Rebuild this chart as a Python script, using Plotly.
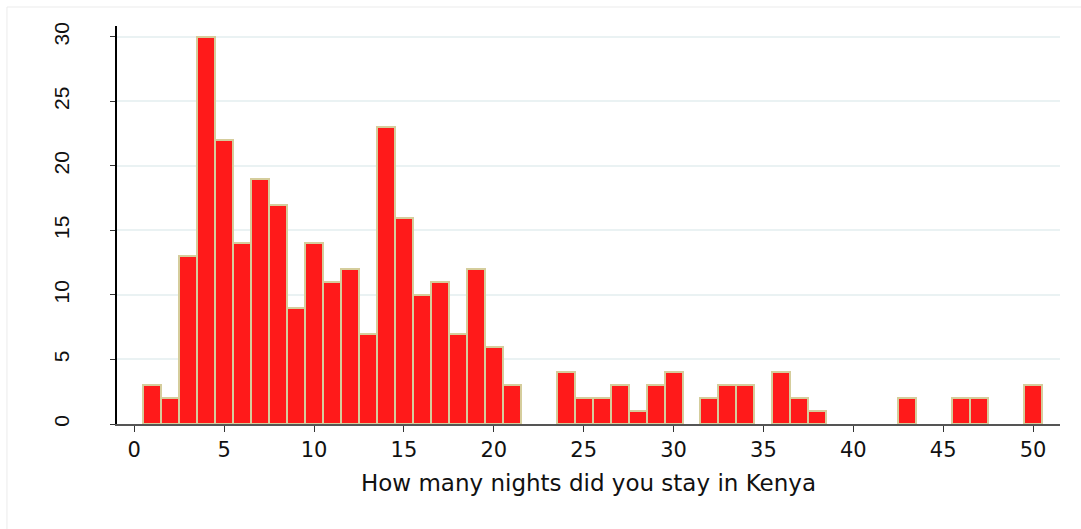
import plotly.graph_objects as go

# Nights stayed and the number of respondents for each value
nights = [1, 2, 3, 4, 5, 6, 7, 8, 9, 10, 11, 12, 13, 14, 15, 16, 17, 18, 19, 20,
          21, 24, 25, 26, 27, 28, 29, 30, 32, 33, 34, 36, 37, 38, 43, 46, 47, 50]
counts = [3, 2, 13, 30, 22, 14, 19, 17, 9, 14, 11, 12, 7, 23, 16, 10, 11, 7, 12, 6,
          3, 4, 2, 2, 3, 1, 3, 4, 2, 3, 3, 4, 2, 1, 2, 2, 2, 3]

x_ticks = [0, 5, 10, 15, 20, 25, 30, 35, 40, 45, 50]
y_ticks = [0, 5, 10, 15, 20, 25, 30]
x_title = "How many nights did you stay in Kenya"

FONT = "Liberation Sans, Arial, sans-serif"
WIDE_FONT = "DejaVu Sans, Liberation Sans, sans-serif"

fig = go.Figure(
    go.Bar(
        x=nights,
        y=counts,
        width=1,
        marker=dict(color="#FF1A1A", line=dict(color="#D5CD9C", width=2)),
        hoverinfo="x+y",
    )
)

fig.update_layout(
    width=1081,
    height=529,
    margin=dict(l=117, r=21, t=26, b=105),
    paper_bgcolor="white",
    plot_bgcolor="white",
    bargap=0,
    showlegend=False,
    font=dict(family=FONT, size=17, color="#111111"),
    shapes=[
        dict(
            type="rect", xref="paper", yref="paper",
            x0=-0.1167, x1=1.03, y0=-0.29, y1=1.0477,
            line=dict(color="#EBEBEB", width=1), fillcolor="rgba(0,0,0,0)",
            layer="below",
        )
    ],
)

fig.update_xaxes(
    range=[-0.96, 51.5],
    tickvals=x_ticks,
    ticks="outside",
    ticklen=6,
    tickcolor="#333333",
    showline=True,
    linecolor="#555555",
    linewidth=1.5,
    showgrid=False,
    zeroline=False,
    tickfont=dict(size=21, family=WIDE_FONT),
    title=dict(text=x_title, font=dict(size=23, family=WIDE_FONT), standoff=14),
)

fig.update_yaxes(
    range=[0, 30.85],
    tickvals=y_ticks,
    ticks="outside",
    ticklen=5,
    tickcolor="#333333",
    tickangle=-90,
    ticklabelstandoff=33,
    showline=True,
    linecolor="black",
    linewidth=1.5,
    showgrid=True,
    gridcolor="#EAF2F3",
    gridwidth=1.5,
    zeroline=False,
    tickfont=dict(size=21, family=FONT),
)

fig.write_html("out.html")
